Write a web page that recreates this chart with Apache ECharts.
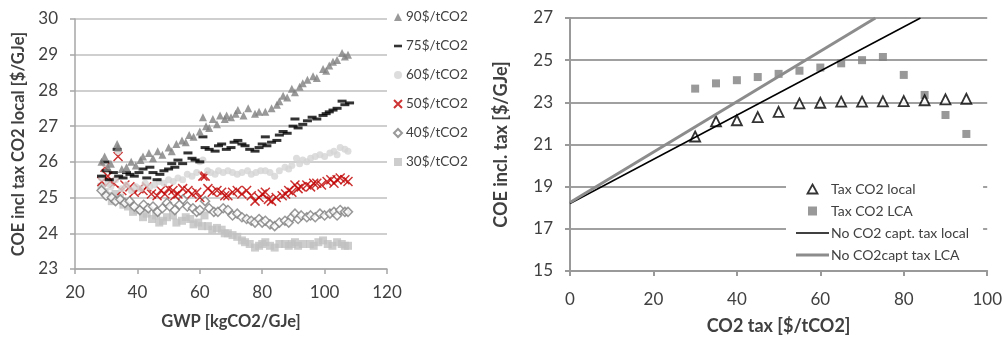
<!DOCTYPE html>
<html>
<head>
<meta charset="utf-8">
<script src="https://cdn.jsdelivr.net/npm/echarts@6/dist/echarts.min.js"></script>
<style>
  html, body { margin: 0; padding: 0; background: #fff; }
  #chart { width: 1005px; height: 340px; }
</style>
</head>
<body>
<div id="chart"></div>
<script>
// left chart: COE vs GWP for different tax levels
var tax90 = [[28.5,26.0],[29.5,26.15],[30.5,25.85],[31.5,25.95],[33.5,26.5],[33.8,26.4],[35,25.8],[36.5,25.85],[38,26.0],[39.5,25.9],[41,26.05],[41.8,26.15],[43.7,26.25],[45,26.1],[46.5,26.3],[48,26.2],[50,26.4],[51,26.3],[52.5,26.5],[54.3,26.6],[55.5,26.55],[56.6,26.75],[58,26.7],[60,26.85],[61,27.25],[62,27.0],[63,26.95],[64.2,27.2],[65.5,27.05],[66.5,27.3],[68,27.2],[68.6,27.3],[70,27.25],[71.5,27.35],[72.2,27.45],[74,27.3],[75.5,27.5],[77.7,27.35],[79,27.4],[81,27.4],[83,27.5],[84.7,27.6],[85.5,27.7],[86.7,27.85],[88,27.8],[89.5,28.05],[90.5,27.95],[92,28.1],[93,28.2],[94.5,28.3],[96.3,28.4],[97.5,28.35],[99.5,28.6],[100.5,28.55],[101.5,28.7],[102.7,28.8],[104,28.85],[105.6,29.05],[106.5,28.95],[107.5,29.0]];
var tax75 = [[28.5,25.6],[29.6,26.0],[30,25.75],[31,25.5],[32.3,25.7],[33.5,26.35],[34,25.6],[35.4,25.55],[36.5,25.7],[37.6,25.65],[39,25.6],[40.5,25.7],[41.8,25.8],[43,25.55],[44,25.85],[45,25.7],[46.3,25.5],[47.2,25.65],[48.5,25.75],[50,25.8],[51,25.95],[52,25.85],[53,26.05],[54.5,25.95],[56.2,26.25],[57.5,26.1],[58.5,26.05],[60,26.0],[61,26.7],[61.7,26.4],[63,26.35],[64.9,26.3],[66,26.45],[67,26.5],[68.5,26.35],[70,26.4],[71,26.55],[72.2,26.6],[73.5,26.5],[74.5,26.45],[76,26.35],[77.7,26.3],[79,26.4],[80,26.5],[81,26.7],[81.5,26.45],[83,26.55],[84.7,26.6],[85.5,26.75],[86.7,26.85],[88,26.8],[89.9,27.0],[90.5,27.2],[91.5,26.95],[93,27.05],[94.5,27.15],[96,27.25],[97.5,27.2],[99.5,27.3],[100.5,27.35],[101.5,27.4],[102.7,27.45],[104,27.5],[105.6,27.7],[106.5,27.6],[108,27.65]];
var tax60 = [[28.5,25.55],[29.6,25.95],[30.5,25.4],[31.5,25.3],[33,25.5],[33.8,26.3],[35,25.25],[36.5,25.35],[38,25.2],[39.5,25.3],[41,25.25],[42.5,25.4],[44,25.3],[45.5,25.35],[47,25.45],[48.5,25.4],[50,25.5],[51.5,25.45],[53,25.55],[54.5,25.5],[56,25.65],[57.5,25.6],[59,25.7],[60,26.0],[61,26.05],[62.5,25.75],[63.5,25.7],[64.9,25.65],[66,25.75],[67.5,25.7],[69,25.75],[70.5,25.7],[72,25.65],[73.5,25.7],[75.3,25.75],[76.5,25.65],[78,25.7],[79.5,25.75],[81,25.75],[82.5,25.7],[84,25.6],[85.5,25.75],[87.3,25.85],[88.5,25.8],[89.5,25.9],[91,26.1],[92,25.95],[93,26.05],[94.3,26.0],[95.5,26.1],[97,26.15],[98.5,26.2],[100,26.15],[101.7,26.25],[103,26.3],[104,26.2],[105,26.4],[106.5,26.35],[107.5,26.3]];
var tax50 = [[28.6,25.45],[29.6,25.85],[30.5,25.6],[31.2,25.45],[32.5,25.4],[33.8,26.15],[35,25.2],[36,25.35],[37.6,25.3],[39,25.15],[40.5,25.25],[41.8,25.2],[43,25.3],[44.5,25.1],[46.3,25.05],[47.5,25.2],[48.8,25.1],[50,25.25],[51.4,25.2],[52,25.05],[53,25.1],[54.5,25.25],[56.2,25.2],[57.5,25.1],[59,25.15],[60,25.0],[61,25.6],[61.7,25.6],[62.6,25.25],[64,25.15],[65.5,25.2],[67,25.15],[68,25.05],[69,25.05],[70.5,25.15],[72,25.2],[73.5,25.1],[75,25.2],[76.5,25.05],[77.7,24.9],[79,25.0],[80,25.1],[81,25.15],[82,24.95],[83,24.9],[84.5,25.0],[86.4,25.05],[87.5,25.1],[88.5,25.2],[89.5,25.15],[90.5,25.35],[91.5,25.25],[92.5,25.3],[94.3,25.35],[95.5,25.3],[96.5,25.4],[97.5,25.4],[99,25.35],[100.8,25.45],[102,25.5],[103,25.4],[104,25.5],[105,25.55],[106.5,25.5],[107.5,25.45]];
var tax40 = [[28.5,25.2],[30,25.05],[31.8,25.0],[33,24.9],[34.5,24.95],[36,24.85],[37.5,24.9],[39,24.75],[40.8,24.65],[42,24.8],[43.5,24.7],[45,24.75],[46.5,24.6],[48,24.7],[49.5,24.85],[50.4,24.75],[52,24.65],[53.5,24.8],[54.6,24.95],[56,24.75],[57.8,24.7],[59,24.6],[60,24.65],[61.7,24.9],[63,24.7],[64.5,24.6],[65.8,24.6],[67.5,24.7],[69,24.65],[70.5,24.5],[72,24.55],[73.5,24.45],[75,24.4],[76.5,24.35],[77.7,24.3],[79,24.4],[80,24.3],[81,24.35],[82.5,24.25],[84,24.2],[85.5,24.3],[87.3,24.35],[88.5,24.3],[89.5,24.45],[90.5,24.55],[91.5,24.4],[92.5,24.5],[94.3,24.45],[95.5,24.5],[97,24.45],[98.5,24.55],[100,24.5],[101.7,24.55],[103,24.6],[104,24.5],[105,24.65],[106.5,24.6],[107.5,24.6]];
var tax30 = [[28.5,25.3],[29.5,25.15],[30.5,25.05],[31.8,24.9],[33,25.1],[34.4,25.0],[35.5,24.8],[37,24.75],[38.6,24.6],[40,24.65],[41.8,24.45],[43,24.55],[44.7,24.4],[46,24.5],[47,24.3],[48.2,24.35],[49.5,24.45],[51.4,24.5],[52.5,24.3],[54.3,24.35],[55.5,24.45],[56.9,24.4],[58,24.25],[59.5,24.3],[60.7,24.2],[61.5,24.5],[62.6,24.2],[64,24.1],[65.5,24.15],[67,24.1],[68,24.0],[69,24.0],[70.5,23.95],[72,23.9],[73.5,23.8],[74.5,23.75],[76,23.7],[77.7,23.6],[79,23.65],[80,23.7],[81,23.75],[82.5,23.65],[84,23.6],[85.5,23.7],[87.3,23.7],[88.5,23.65],[89.5,23.7],[90.5,23.75],[91.5,23.65],[93,23.7],[95.3,23.7],[96.5,23.65],[98,23.75],[99.5,23.8],[101,23.7],[102.5,23.65],[104,23.75],[105.5,23.7],[106.5,23.65],[107.5,23.65]];

// right chart: COE vs CO2 tax
var co2Tax = [30, 35, 40, 45, 50, 55, 60, 65, 70, 75, 80, 85, 90, 95];
var coeLocal = [21.38, 22.1, 22.15, 22.3, 22.55, 22.95, 22.98, 23.03, 23.03, 23.05, 23.06, 23.1, 23.14, 23.17];
var coeLCA = [23.65, 23.9, 24.05, 24.2, 24.35, 24.5, 24.65, 24.85, 25.0, 25.15, 24.3, 23.35, 22.4, 21.5];
var noCaptLocal = [[0, 18.2], [84, 27]];
var noCaptLCA = [[0, 18.25], [73.2, 27]];

var font = 'Lato';
var txt = '#404040';

function zip(xs, ys) {
	var out = [];
	for (var i = 0; i < xs.length; i++) {
		out.push([xs[i], ys[i]]);
	}
	return out;
}

var crossPath = 'path://M0,0L10,10M10,0L0,10';
var dashIcon = 'path://M0,0L8,0L8,2.6L0,2.6Z';
var triIcon = 'path://M5,0L10,9L0,9Z';
var squareIcon = 'path://M0,0L8,0L8,8L0,8Z';
var thinLineIcon = 'path://M0,0L33,0L33,1.5L0,1.5Z';
var thickLineIcon = 'path://M0,0L33,0L33,3L0,3Z';

var option = {
	animation: false,
	textStyle: { fontFamily: font },
	grid: [
		{ left: 75, top: 19, width: 312, height: 250 },
		{ left: 570, top: 18, width: 418, height: 254 }
	],
	legend: [{
		orient: 'vertical',
		left: 388,
		top: 5,
		itemWidth: 8,
		itemHeight: 8,
		itemGap: 15,
		textStyle: { fontFamily: font, fontSize: 13.5, color: txt, padding: [0, 0, 0, -1] },
		data: [
			{ name: '90$/tCO2' },
			{ name: '75$/tCO2', icon: dashIcon },
			{ name: '60$/tCO2' },
			{ name: '50$/tCO2' },
			{ name: '40$/tCO2' },
			{ name: '30$/tCO2' }
		]
	}, {
		orient: 'vertical',
		left: 786,
		top: 180,
		padding: [2, 14, 2, 10],
		backgroundColor: '#fff',
		itemWidth: 33,
		itemHeight: 9,
		itemGap: 8,
		textStyle: { fontFamily: font, fontSize: 14, color: txt, padding: [0, 0, 0, -3] },
		data: [
			{ name: 'Tax CO2 local', icon: triIcon, itemStyle: { color: '#fff', borderColor: '#000', borderWidth: 1.8 } },
			{ name: 'Tax CO2 LCA', icon: squareIcon, itemStyle: { color: '#808080' } },
			{ name: 'No CO2 capt. tax local', icon: thinLineIcon, itemStyle: { color: '#000', borderWidth: 0 } },
			{ name: 'No CO2capt tax LCA', icon: thickLineIcon, itemStyle: { color: '#8c8c8c', borderWidth: 0 } }
		]
	}],
	xAxis: [{
		gridIndex: 0,
		type: 'value',
		min: 20, max: 120, interval: 20,
		name: 'GWP [kgCO2/GJe]',
		nameLocation: 'middle',
		nameGap: 44,
		nameTextStyle: { fontFamily: font, fontSize: 16.5, fontWeight: 'bold', color: txt },
		axisLine: { lineStyle: { color: '#a6a6a6', width: 1.5 } },
		axisTick: { show: true, length: 5, lineStyle: { color: '#a6a6a6', width: 1.5 } },
		axisLabel: { fontSize: 17, color: txt, margin: 15 },
		splitLine: { show: false }
	}, {
		gridIndex: 1,
		type: 'value',
		min: 0, max: 100, interval: 20,
		name: 'CO2 tax [$/tCO2]',
		nameLocation: 'middle',
		nameGap: 46,
		nameTextStyle: { fontFamily: font, fontSize: 18, fontWeight: 'bold', color: txt },
		axisLine: { lineStyle: { color: '#999', width: 2 } },
		axisTick: { show: true, length: 5, lineStyle: { color: '#999', width: 2 } },
		axisLabel: { fontSize: 17, color: txt, margin: 20 },
		splitLine: { show: false }
	}],
	yAxis: [{
		gridIndex: 0,
		type: 'value',
		min: 23, max: 30, interval: 1,
		name: 'COE incl tax CO2 local [$/GJe]',
		nameLocation: 'middle',
		nameGap: 48,
		nameTextStyle: { fontFamily: font, fontSize: 16.5, fontWeight: 'bold', color: txt },
		axisLine: { show: true, lineStyle: { color: '#a6a6a6', width: 1.5 } },
		axisTick: { show: true, length: 5, lineStyle: { color: '#a6a6a6', width: 1.5 } },
		axisLabel: { fontSize: 17, color: txt, margin: 17 },
		splitLine: { lineStyle: { color: '#bfbfbf', width: 1.5 } }
	}, {
		gridIndex: 1,
		type: 'value',
		min: 15, max: 27, interval: 2,
		name: 'COE incl. tax [$/GJe]',
		nameLocation: 'middle',
		nameGap: 60,
		nameTextStyle: { fontFamily: font, fontSize: 18, fontWeight: 'bold', color: txt },
		axisLine: { show: true, lineStyle: { color: '#999', width: 2 } },
		axisTick: { show: true, length: 5, lineStyle: { color: '#999', width: 2 } },
		axisLabel: { fontSize: 17, color: txt, margin: 17 },
		splitLine: { lineStyle: { color: '#a0a0a0', width: 2 } }
	}],
	series: [
		{
			name: '30$/tCO2', type: 'scatter', xAxisIndex: 0, yAxisIndex: 0,
			symbol: 'rect', symbolSize: 8,
			itemStyle: { color: '#c0c0c0' },
			data: tax30
		}, {
			name: '40$/tCO2', type: 'scatter', xAxisIndex: 0, yAxisIndex: 0,
			symbol: 'diamond', symbolSize: 9,
			itemStyle: { color: '#fff', borderColor: '#7f7f7f', borderWidth: 1.5 },
			data: tax40
		}, {
			name: '50$/tCO2', type: 'scatter', xAxisIndex: 0, yAxisIndex: 0,
			symbol: crossPath, symbolSize: 9,
			itemStyle: { color: 'rgba(0,0,0,0)', borderColor: '#c00000', borderWidth: 1.5 },
			data: tax50
		}, {
			name: '60$/tCO2', type: 'scatter', xAxisIndex: 0, yAxisIndex: 0,
			symbol: 'circle', symbolSize: 7,
			itemStyle: { color: '#d4d4d4' },
			data: tax60
		}, {
			name: '75$/tCO2', type: 'scatter', xAxisIndex: 0, yAxisIndex: 0,
			symbol: 'rect', symbolSize: [9, 3],
			itemStyle: { color: '#000' },
			data: tax75
		}, {
			name: '90$/tCO2', type: 'scatter', xAxisIndex: 0, yAxisIndex: 0,
			symbol: 'triangle', symbolSize: 8,
			itemStyle: { color: '#808080' },
			data: tax90
		}, {
			name: 'No CO2 capt. tax local', type: 'line', xAxisIndex: 1, yAxisIndex: 1,
			symbol: 'none',
			lineStyle: { color: '#000', width: 1.5 },
			itemStyle: { color: '#000' },
			data: noCaptLocal
		}, {
			name: 'No CO2capt tax LCA', type: 'line', xAxisIndex: 1, yAxisIndex: 1,
			symbol: 'none',
			lineStyle: { color: '#8c8c8c', width: 3 },
			itemStyle: { color: '#8c8c8c' },
			data: noCaptLCA
		}, {
			name: 'Tax CO2 LCA', type: 'scatter', xAxisIndex: 1, yAxisIndex: 1,
			symbol: 'rect', symbolSize: 8,
			itemStyle: { color: '#808080' },
			data: zip(co2Tax, coeLCA)
		}, {
			name: 'Tax CO2 local', type: 'scatter', xAxisIndex: 1, yAxisIndex: 1,
			symbol: 'triangle', symbolSize: 10,
			itemStyle: { color: '#fff', borderColor: '#000', borderWidth: 1.8 },
			data: zip(co2Tax, coeLocal)
		}
	]
};

var myChart = echarts.init(document.getElementById('chart'));
myChart.setOption(option);
</script>
</body>
</html>
